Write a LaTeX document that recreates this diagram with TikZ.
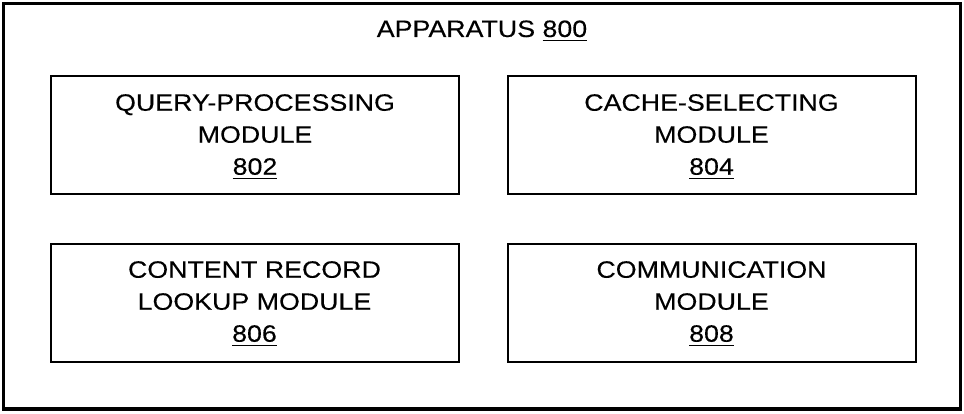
\documentclass[tikz,border=0pt]{standalone}
\usepackage{fontspec}
\setmainfont[FakeStretch=1.13,FakeBold=0.25]{Liberation Sans}
% reference numeral with a thick underline
\newcommand\refnum[1]{\setbox0\hbox{#1}\rlap{\rule[-4.5pt]{\wd0}{1.6pt}}\box0}
\begin{document}
\begin{tikzpicture}[x=1pt,y=-1pt,
  module/.style={draw, line width=2pt, minimum width=408pt, minimum height=118pt,
    inner sep=0pt},
  modtext/.style={anchor=north, inner sep=0pt, align=center,
    font=\fontsize{23.7}{32}\selectfont},
  label/.style={font=\fontsize{23.7}{32}\selectfont, anchor=base, inner sep=0pt}]
  \useasboundingbox (0,0) rectangle (964,414);
  % apparatus frame
  \draw[line width=3.5pt] (3.5,3.5) rectangle (960.5,409);
  \node[label] (title) at (482,37) {APPARATUS \refnum{800}};
  % module boxes
  \node[module] (qp) at (255,135.5) {};
  \node[module] (cs) at (711.5,135.5) {};
  \node[module] (cr) at (254.5,303) {};
  \node[module] (cm) at (711.5,303) {};
  % module captions
  \node[modtext] (qpt) at (255,94) {QUERY-PROCESSING\\MODULE\\\refnum{802}};
  \node[modtext] (cst) at (711.5,94) {CACHE-SELECTING\\MODULE\\\refnum{804}};
  \node[modtext] (crt) at (254.5,261) {CONTENT RECORD\\LOOKUP MODULE\\\refnum{806}};
  \node[modtext] (cmt) at (711.5,261) {COMMUNICATION\\MODULE\\\refnum{808}};
\end{tikzpicture}
\end{document}
